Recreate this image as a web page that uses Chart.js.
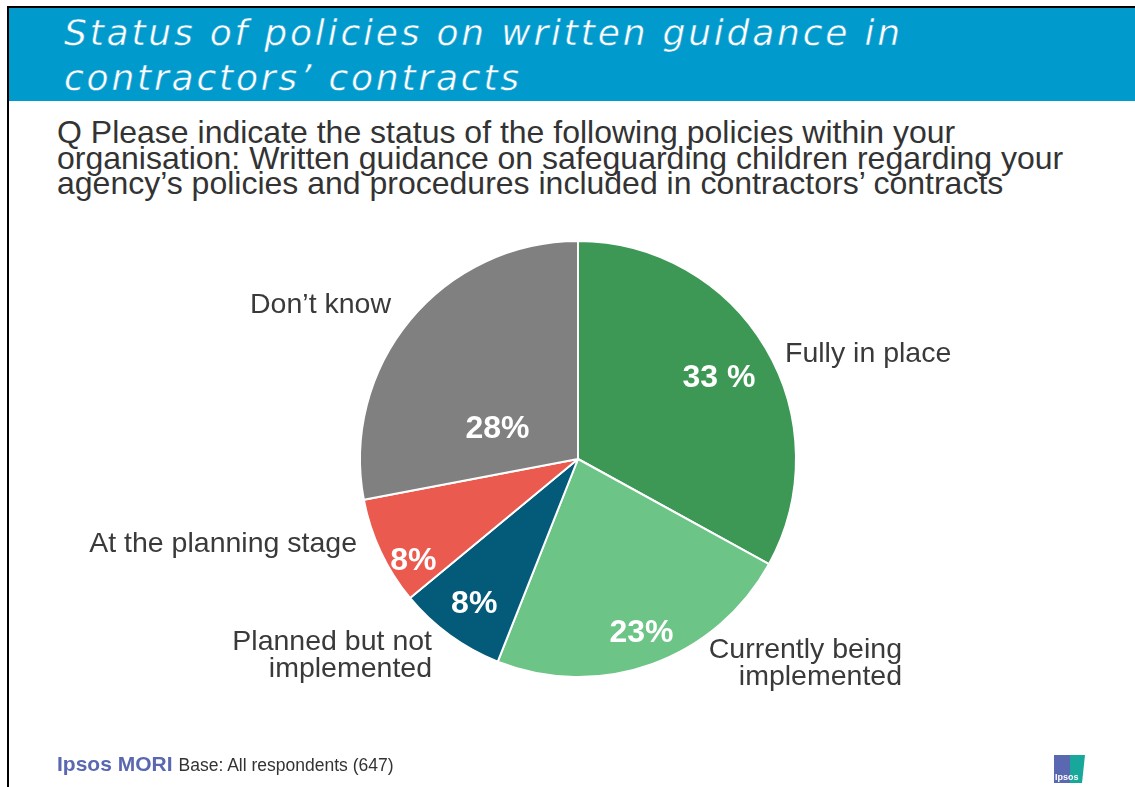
<!DOCTYPE html>
<html>
<head>
<meta charset="utf-8">
<script src="https://cdn.jsdelivr.net/npm/chart.js@4"></script>
<style>
  html, body { margin: 0; padding: 0; background: #fff; }
  body { width: 1135px; height: 787px; position: relative; overflow: hidden; }
  #frameTop { position: absolute; left: 7px; top: 6px; width: 1128px; height: 2px; background: #000; }
  #frameLeft { position: absolute; left: 7px; top: 6px; width: 2px; height: 781px; background: #000; }
  #header { position: absolute; left: 9px; top: 8px; width: 1126px; height: 93px; background: #009acd; }
  #title {
    position: absolute; left: 64px; top: 10px; margin: 0;
    font-family: "DejaVu Sans", sans-serif; font-weight: normal; font-style: italic;
    font-size: 36px; line-height: 45px; color: #fff; white-space: nowrap;
    letter-spacing: 2.8px;
    -webkit-text-stroke: 0.5px #009acd;
  }
  #question {
    position: absolute; left: 57px; top: 120px; margin: 0;
    font-family: "Liberation Sans", Arial, sans-serif; font-size: 32px; line-height: 25.5px;
    color: #333; white-space: nowrap;
  }
  #chartBox { position: absolute; left: 0; top: 0; width: 1135px; height: 787px; }
  #footer {
    position: absolute; left: 57px; top: 754px; white-space: nowrap;
    font-family: "Liberation Sans", Arial, sans-serif; line-height: 20px;
  }
  #footer .brand { font-weight: bold; font-size: 21px; color: #5a68b2; }
  #footer .base { font-size: 17.5px; color: #333; margin-left: 6px; }
  #logo { position: absolute; left: 1054px; top: 755px; width: 31px; height: 28px; overflow: hidden; }
  #logo .l { position: absolute; left: 0; top: 0; width: 16px; height: 28px; background: #5a68b2; }
  #logo .r { position: absolute; left: 16px; top: 0; width: 15px; height: 28px; background: #17a89b;
             clip-path: polygon(0 0, 100% 0, 80% 100%, 0 100%); }
  #logo .t { position: absolute; left: 1px; bottom: 1px; font-family: "Liberation Sans", Arial, sans-serif;
             font-size: 9px; font-weight: bold; color: #fff; line-height: 10px; }
</style>
</head>
<body>
<div id="frameTop"></div>
<div id="frameLeft"></div>
<div id="header"></div>
<div id="title">Status of policies on written guidance in<br>contractors’ contracts</div>
<div id="question">Q Please indicate the status of the following policies within your<br>organisation: Written guidance on safeguarding children regarding your<br>agency’s policies and procedures included in contractors’ contracts</div>
<div id="chartBox"><canvas id="pie" width="1135" height="787"></canvas></div>
<div id="footer"><span class="brand">Ipsos MORI</span><span class="base">Base: All respondents (647)</span></div>
<div id="logo"><div class="l"></div><div class="r"></div><div class="t">Ipsos</div></div>

<script>
// Policy status categories, in drawing order (clockwise from 12 o'clock)
const categories = ['Fully in place', 'Currently being implemented', 'Planned but not implemented', 'At the planning stage', 'Don’t know'];
const categoryLines = [['Fully in place'], ['Currently being', 'implemented'], ['Planned but not', 'implemented'], ['At the planning stage'], ['Don’t know']];
// Share of respondents (%)
const shares = [33, 23, 8, 8, 28];
const shareSuffix = [' %', '%', '%', '%', '%'];
const sliceColours = ['#3d9856', '#6cc486', '#035a79', '#ea5a4f', '#808080'];

// Value label placement inside each slice: fraction of radius, angular nudge (deg)
const valueLabelPlacement = [
  { r: 0.751, shift: 0 },
  { r: 0.84, shift: -0.5 },
  { r: 0.81, shift: 0 },
  { r: 0.884, shift: -6.1 },
  { r: 0.397, shift: -18.1 }
];
// Category label anchors relative to pie centre (first-line baseline)
const categoryLabelPlacement = [
  { dx: 207, dy: -97, align: 'left' },
  { dx: 324, dy: 199, align: 'right' },
  { dx: -146, dy: 191, align: 'right' },
  { dx: -221, dy: 93, align: 'right' },
  { dx: -187, dy: -146, align: 'right' }
];

const pieLabels = {
  id: 'pieLabels',
  afterDatasetsDraw(chart) {
    const ctx = chart.ctx;
    const arcs = chart.getDatasetMeta(0).data;
    ctx.save();
    arcs.forEach((arc, i) => {
      const p = arc.getProps(['x', 'y', 'startAngle', 'endAngle', 'outerRadius'], true);
      // value label
      const vp = valueLabelPlacement[i];
      const a = (p.startAngle + p.endAngle) / 2 + vp.shift * Math.PI / 180;
      const d = p.outerRadius * vp.r;
      const vx = p.x + Math.cos(a) * d;
      const vy = p.y + Math.sin(a) * d;
      ctx.font = 'bold 32px "Liberation Sans", Arial, sans-serif';
      ctx.fillStyle = '#fff';
      ctx.textAlign = 'center';
      ctx.textBaseline = 'alphabetic';
      ctx.fillText(shares[i] + shareSuffix[i], vx, vy + 11);
      // category label
      const cp = categoryLabelPlacement[i];
      ctx.font = '28.5px "Liberation Sans", Arial, sans-serif';
      ctx.fillStyle = '#3a3a3a';
      ctx.textAlign = cp.align;
      categoryLines[i].forEach((line, k) => {
        ctx.fillText(line, p.x + cp.dx, p.y + cp.dy + k * 27);
      });
    });
    ctx.restore();
  }
};

new Chart(document.getElementById('pie'), {
  type: 'pie',
  data: {
    labels: categories,
    datasets: [{
      data: shares,
      backgroundColor: sliceColours,
      borderColor: '#ffffff',
      borderWidth: 2
    }]
  },
  options: {
    responsive: false,
    animation: false,
    radius: 218,
    layout: { padding: { left: 21, top: 131, right: 0, bottom: 0 } },
    plugins: {
      legend: { display: false },
      tooltip: { enabled: false },
      title: { display: false }
    }
  },
  plugins: [pieLabels]
});
</script>
</body>
</html>
